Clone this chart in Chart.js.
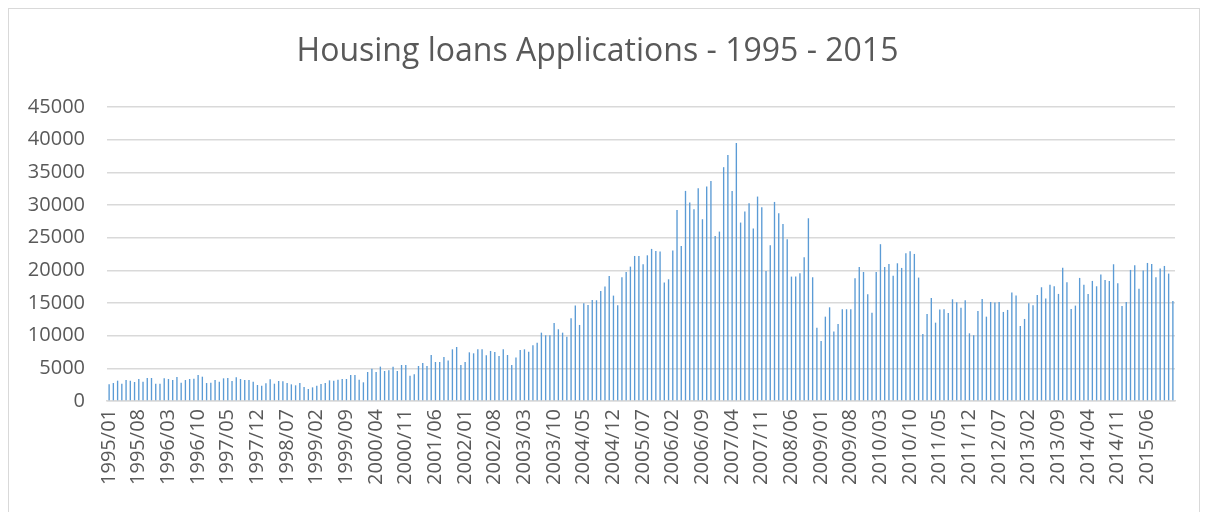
<!DOCTYPE html>
<html>
<head>
<meta charset="utf-8">
<script src="https://cdn.jsdelivr.net/npm/chart.js@4.4.1/dist/chart.umd.min.js"></script>
<style>
  html, body { margin: 0; padding: 0; background: #ffffff; }
  #wrap { position: relative; width: 1211px; height: 512px; overflow: hidden; }
  #frame { position: absolute; left: 8px; top: 8px; width: 1190px; height: 600px; border: 1px solid #d9d9d9; }
  #chart { position: absolute; left: 0; top: 0; }
</style>
</head>
<body>
<div id="wrap">
  <div id="frame"></div>
  <canvas id="chart" width="1211" height="512"></canvas>
</div>
<script>
// Mois 1995/01 .. 2015/12
const firstYear = 1995;
const lastYear = 2015;
const months = [];
for (let y = firstYear; y <= lastYear; y++) {
    for (let m = 1; m <= 12; m++) {
        months.push(y + '/' + String(m).padStart(2, '0'));
    }
}

// Valeurs (une par mois)
const applications = [
    2560, 2750, 3110, 2650, 3210, 3110, 2910, 3370, 2960, 3520, 3520, 2650,
    2650, 3470, 3370, 3210, 3670, 2800, 3210, 3370, 3420, 3980, 3720, 2750,
    2800, 3210, 2960, 3470, 3520, 3060, 3620, 3370, 3210, 3210, 2960, 2450,
    2350, 2700, 3320, 2650, 3060, 3010, 2750, 2550, 2400, 2750, 2140, 1840,
    2090, 2350, 2600, 2750, 3160, 3110, 3270, 3370, 3370, 3980, 3980, 3270,
    2860, 4440, 4950, 4440, 5260, 4590, 4690, 5260, 4590, 5510, 5510, 3880,
    4080, 5360, 5820, 5360, 7040, 5970, 5970, 6740, 6180, 7910, 8270, 5510,
    5970, 7450, 7300, 7910, 7910, 6990, 7660, 7500, 6890, 7910, 7040, 5510,
    6640, 7810, 7910, 7550, 8530, 8930, 10460, 10060, 10060, 11940, 10980, 10460,
    9850, 12660, 14600, 11640, 14960, 14700, 15470, 15420, 16850, 17510, 19140, 16130,
    14650, 18940, 19750, 20570, 22200, 22200, 20930, 22300, 23280, 22970, 22870, 18120,
    18630, 23020, 29250, 23740, 32160, 30370, 29360, 32570, 27820, 32820, 33690, 25270,
    25930, 35790, 37670, 32160, 39500, 27310, 28990, 30270, 26390, 31290, 29660, 19910,
    23840, 30470, 28740, 27100, 24760, 19040, 19040, 19550, 22010, 27970, 18940, 11230,
    9190, 12910, 14340, 10620, 11790, 14040, 14040, 14040, 18790, 20520, 19750, 16340,
    13520, 19750, 24000, 20520, 20980, 19190, 21080, 20370, 22610, 22920, 22510, 18890,
    10260, 13320, 15770, 11990, 13990, 14040, 13480, 15570, 15110, 14290, 15420, 10360,
    10060, 13780, 15620, 12910, 15160, 15060, 15160, 13630, 13940, 16590, 16130, 11490,
    12560, 14960, 14650, 16230, 17410, 15670, 17810, 17560, 16390, 20410, 18170, 14090,
    14600, 18840, 17810, 16390, 18380, 17560, 19350, 18530, 18380, 20930, 18020, 14550,
    15160, 20060, 20780, 17200, 19960, 21130, 20980, 18940, 20270, 20670, 19500, 15310
];

// Graduations de l'axe Y
const yTicks = [0, 5000, 10000, 15000, 20000, 25000, 30000, 35000, 40000, 45000];
// Une étiquette tous les 7 mois sur l'axe X
const labelStep = 7;

const textColor = '#595959';
const gridColor = '#d9d9d9';
const barColor = '#5B9BD5';
const tickFont = { family: 'Open Sans', size: 20 };

new Chart(document.getElementById('chart'), {
    type: 'bar',
    data: {
        labels: months,
        datasets: [{
            label: 'Applications',
            data: applications,
            backgroundColor: barColor,
            barPercentage: 0.32,
            categoryPercentage: 1
        }]
    },
    options: {
        responsive: false,
        animation: false,
        layout: { padding: { left: 20, right: 36, top: 0, bottom: 0 } },
        plugins: {
            legend: { display: false },
            tooltip: { enabled: false },
            title: {
                display: true,
                text: 'Housing loans Applications - 1995 - 2015',
                color: textColor,
                font: { family: 'Open Sans', size: 32, weight: 'normal', lineHeight: 1.2 },
                padding: { top: 33, bottom: 35.6 }
            }
        },
        scales: {
            x: {
                grid: { display: false, drawTicks: false },
                border: { display: true, color: gridColor, width: 1.5 },
                ticks: {
                    autoSkip: false,
                    minRotation: 90,
                    maxRotation: 90,
                    padding: 8,
                    color: textColor,
                    font: tickFont,
                    callback: (v, i) => (i % labelStep === 0 ? months[i] : '')
                },
                afterFit: (s) => { s.height = 111; }
            },
            y: {
                min: 0,
                max: 45000,
                afterBuildTicks: (s) => { s.ticks = yTicks.map(v => ({ value: v })); },
                ticks: {
                    padding: 22,
                    color: textColor,
                    font: tickFont,
                    callback: (v) => String(v)
                },
                grid: { color: gridColor, lineWidth: 1.5, drawTicks: false },
                border: { display: false },
                afterFit: (s) => { s.width = 87; }
            }
        }
    }
});
</script>
</body>
</html>
